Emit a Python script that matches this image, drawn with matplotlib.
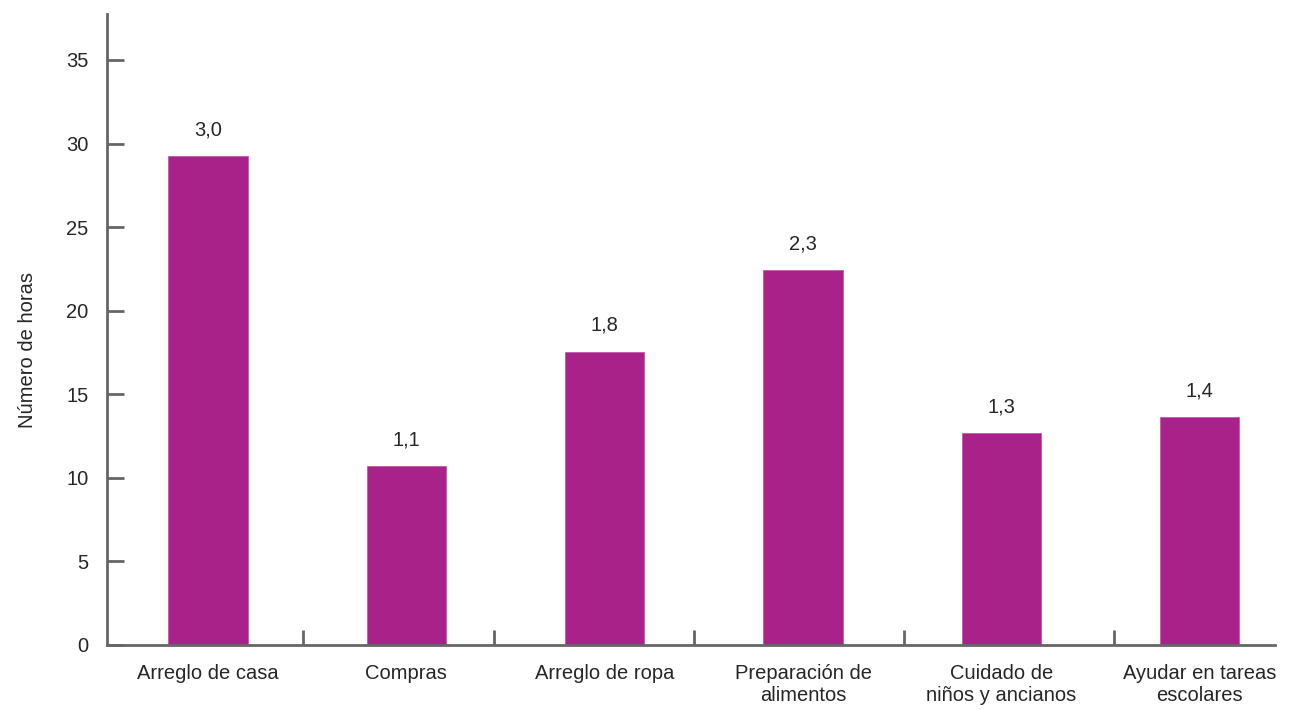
import matplotlib
matplotlib.use("Agg")
import matplotlib.pyplot as plt
import numpy as np

# Hours spent on each household task
categories = [
    "Arreglo de casa",
    "Compras",
    "Arreglo de ropa",
    "Preparación de\nalimentos",
    "Cuidado de\nniños y ancianos",
    "Ayudar en tareas\nescolares",
]
values = [3.0, 1.1, 1.8, 2.3, 1.3, 1.4]
value_labels = ["3,0", "1,1", "1,8", "2,3", "1,3", "1,4"]
y_ticks = [0, 5, 10, 15, 20, 25, 30, 35]
bar_scale = 9.75  # bars are plotted on the "Número de horas" axis

bar_color = "#A8228A"
axis_color = "#666666"
text_color = "#262626"
font_size = 14.5

plt.rcParams["font.family"] = ["Liberation Sans", "DejaVu Sans"]

fig = plt.figure(figsize=(12.97, 7.10), dpi=100)
ax = fig.add_axes([107 / 1297, 1 - 645 / 710, (1275 - 107) / 1297, (645 - 14) / 710])

x = np.arange(len(categories))
heights = [v * bar_scale for v in values]
ax.bar(x, heights, width=0.40, color=bar_color, edgecolor="#C25AAE", linewidth=0.6, zorder=2)

for xi, h, lab in zip(x, heights, value_labels):
    ax.annotate(lab, (xi, h), xytext=(0, 12), textcoords="offset points",
                ha="center", va="bottom", fontsize=font_size, color=text_color)

ax.set_xlim(-0.51, 5.38)
ax.set_ylim(0, 37.75)

for side in ("top", "right"):
    ax.spines[side].set_visible(False)
for side in ("left", "bottom"):
    ax.spines[side].set_color(axis_color)
    ax.spines[side].set_linewidth(2.0)

ax.set_yticks(y_ticks)
ax.set_yticklabels([str(t) for t in y_ticks])
ax.tick_params(axis="y", direction="in", length=12, width=2, color=axis_color,
               pad=13.5, labelsize=font_size, labelcolor=text_color)

ax.set_xticks(x)
ax.set_xticklabels(categories, linespacing=1.2)
ax.tick_params(axis="x", which="major", length=0, pad=14, labelsize=font_size, labelcolor=text_color)

separators = [0.48, 1.44, 2.45, 3.51, 4.57]
ax.set_xticks(separators, minor=True)
ax.tick_params(axis="x", which="minor", direction="in", length=11, width=2, color=axis_color)

ax.set_ylabel("Número de horas", fontsize=font_size, color=text_color)
ax.yaxis.label.set_va("center")
ax.yaxis.set_label_coords(-(107 - 28) / 1168, (645 - 350) / 631)

fig.savefig("out.png", dpi=100)
